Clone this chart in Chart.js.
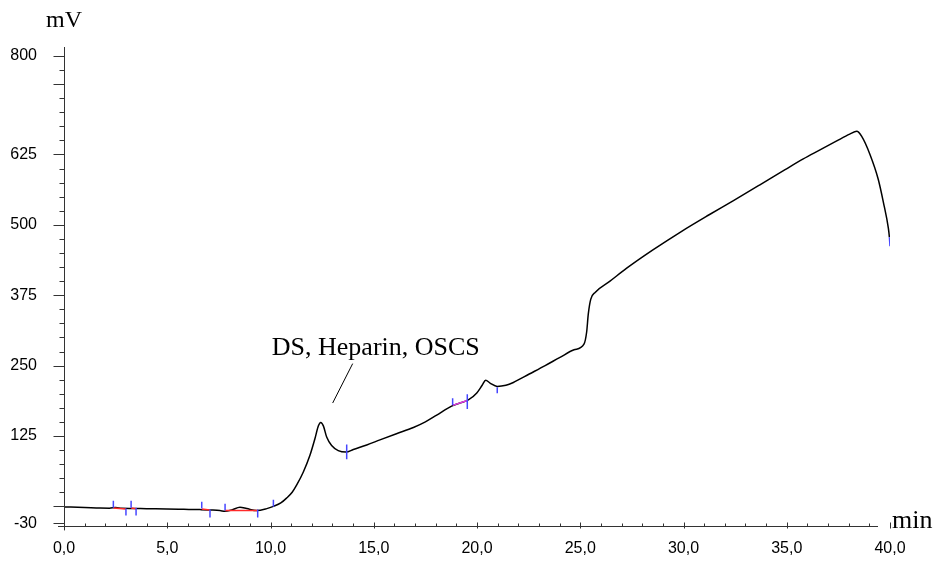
<!DOCTYPE html>
<html>
<head>
<meta charset="utf-8">
<script src="https://cdn.jsdelivr.net/npm/chart.js@4/dist/chart.umd.min.js"></script>
<style>
  html, body { margin: 0; padding: 0; background: #fff; }
  #wrap { width: 938px; height: 563px; position: relative; }
</style>
</head>
<body>
<div id="wrap"><canvas id="chromatogram"></canvas></div>
<script>
// Detector trace: retention time (min) and signal (mV)
const timeMin = [
  0, 1.0, 1.74, 2.2, 2.5, 2.8, 3.3, 4.0, 4.97, 5.8, 6.59, 7.2, 7.55, 7.8, 8.12, 8.52, 8.85, 9.33, 9.82,
  10.14, 10.5, 10.78, 11.05, 11.27, 11.59, 11.91, 12.15, 12.32, 12.43, 12.56, 12.72, 12.96, 13.28, 13.66,
  14.01, 14.66, 15.3, 16.1, 16.92, 17.5, 18.05, 18.77, 19.2, 19.58, 19.99, 20.25, 20.42, 20.63, 20.98,
  21.4, 21.76, 22.53, 23.3, 24.02, 24.7, 25.18, 25.31, 25.39, 25.51, 25.72, 26.44, 27.25, 28.5, 29.93,
  31.2, 32.42, 33.7, 34.92, 35.8, 36.61, 37.42, 38.05, 38.39, 38.63, 39.03, 39.43, 39.68, 39.92, 39.97, 40.0
];
const signalMV = [
  -1, -2, -3, -3.2, -2, -3.5, -3.8, -4.2, -4.6, -5.2, -5.8, -6.6, -7.5, -8.8, -6.5, -1.7, -4.0, -7.5, -4.0,
  0, 6, 14.7, 25, 38, 61, 90.6, 120, 143, 149, 143, 123, 108, 99, 96.4,
  101, 109, 118, 129, 140, 150, 162, 178, 184, 189, 201.5, 215, 224, 219, 213,
  215, 220, 235, 250, 264.6, 278, 288, 309.6, 341.7, 368, 380, 400, 423, 455, 489,
  517, 543, 571, 598, 617, 633, 649, 661, 666, 657, 625, 581, 540, 494, 478, 462
];

// Integration event marks (time, upper and lower signal of each mark)
const eventTime   = [2.39, 3.00, 3.25, 3.49, 6.67, 7.07, 7.80, 9.38, 10.14, 13.69, 18.82, 19.53, 20.98];
const eventTop    = [10.0, -4.0, 10.0, -2.3, 8.2, -5.8, 4.7, -5.8, 11.7, 110, 192, 199, 211.5];
const eventBottom = [-2.3, -16.3, -2.3, -16.3, -4.0, -19.8, -7.5, -19.8, -0.5, 83.6, 180, 173, 201];

// Peak baselines (start time, start signal, end time, end signal)
const baseStartTime = [2.39, 3.25, 6.67, 7.80, 18.82];
const baseStartMV   = [-3.0, -3.0, -4.7, -7.5, 179.4];
const baseEndTime   = [3.00, 3.49, 7.07, 9.38, 19.53];
const baseEndMV     = [-4.7, -4.1, -6.4, -7.5, 188];
const baseKind      = ['red', 'red', 'red', 'red', 'magenta'];

// Axis tick values
const xLabelStep = 5;
const yTickLabels = [-30, 125, 250, 375, 500, 625, 800];
const yLongTicks = [-30, 0, 125, 250, 375, 500, 625, 750, 800];

const BLUE = '#4646ff';
const COLORS = { red: '#ff2a2a', magenta: '#e23ce2' };
const AXIS = '#333333';

const datasets = [];

eventTime.forEach((t, i) => {
  datasets.push({
    data: [{ x: t, y: eventTop[i] }, { x: t, y: eventBottom[i] }],
    borderColor: BLUE, borderWidth: 1.5, pointRadius: 0, tension: 0
  });
});

baseStartTime.forEach((t, i) => {
  datasets.push({
    data: [{ x: t, y: baseStartMV[i] }, { x: baseEndTime[i], y: baseEndMV[i] }],
    borderColor: COLORS[baseKind[i]], borderWidth: 1.5, pointRadius: 0, tension: 0
  });
});

const lastSeg = timeMin.length - 2;
datasets.push({
  data: timeMin.map((t, i) => ({ x: t, y: signalMV[i] })),
  borderColor: '#000',
  borderWidth: 1.5,
  pointRadius: 0,
  cubicInterpolationMode: 'monotone',
  segment: { borderColor: ctx => (ctx.p0DataIndex >= lastSeg ? BLUE : '#000') }
});

// Axis lines, tick marks and free text
const furniture = {
  id: 'furniture',
  afterDraw(chart) {
    const { ctx, chartArea: a, scales: { x, y } } = chart;
    ctx.save();
    ctx.strokeStyle = AXIS;
    ctx.lineWidth = 1;
    ctx.beginPath();
    const ax = Math.round(a.left) + 0.5;
    const ay = Math.round(a.bottom) + 0.5;
    ctx.moveTo(ax, a.top); ctx.lineTo(ax, a.bottom + 4);
    ctx.moveTo(a.left - 6, ay); ctx.lineTo(a.right - 12, ay);
    for (let v = 0; v <= 800; v += 25) {
      if (yLongTicks.includes(v)) continue;
      const py = Math.round(y.getPixelForValue(v)) + 0.5;
      ctx.moveTo(ax - 5, py); ctx.lineTo(ax, py);
    }
    yLongTicks.forEach(v => {
      const py = Math.round(y.getPixelForValue(v)) + 0.5;
      ctx.moveTo(ax - 11, py); ctx.lineTo(ax, py);
    });
    for (let t = 0; t <= 40; t += 1) {
      const px = Math.round(x.getPixelForValue(t)) + 0.5;
      if (t % xLabelStep === 0) { ctx.moveTo(px, ay - 4); ctx.lineTo(px, ay + 2); }
      else { ctx.moveTo(px, ay - 3); ctx.lineTo(px, ay); }
    }
    ctx.stroke();

    // leader line of the peak label
    ctx.beginPath();
    ctx.strokeStyle = '#000';
    ctx.moveTo(x.getPixelForValue(13.98), y.getPixelForValue(253.5));
    ctx.lineTo(x.getPixelForValue(13.01), y.getPixelForValue(183.5));
    ctx.stroke();

    ctx.fillStyle = '#000';
    ctx.textBaseline = 'alphabetic';
    ctx.font = '26px "Liberation Serif", "Times New Roman", serif';
    ctx.textAlign = 'center';
    ctx.fillText('DS, Heparin, OSCS', x.getPixelForValue(15.1), y.getPixelForValue(268));

    ctx.font = '24px "Liberation Serif", "Times New Roman", serif';
    ctx.fillText('mV', a.left, 27);
    ctx.textAlign = 'left';
    ctx.font = '26px "Liberation Serif", "Times New Roman", serif';
    ctx.fillText('min', a.right + 2, 528);
    ctx.restore();
  }
};

new Chart(document.getElementById('chromatogram'), {
  type: 'line',
  data: { datasets },
  plugins: [furniture],
  options: {
    responsive: true,
    maintainAspectRatio: false,
    animation: false,
    events: [],
    layout: { padding: { top: 47, right: 48, left: 0, bottom: 0 } },
    plugins: { legend: { display: false }, tooltip: { enabled: false } },
    scales: {
      x: {
        type: 'linear',
        min: 0, max: 40,
        afterFit: s => { s.height = 31; },
        border: { display: false },
        grid: { display: true, drawOnChartArea: false, drawTicks: false },
        ticks: {
          stepSize: xLabelStep,
          padding: 13,
          color: '#000',
          font: { family: '"Liberation Sans", Arial, sans-serif', size: 16 },
          maxRotation: 0,
          callback: v => Number(v).toFixed(1).replace('.', ',')
        }
      },
      y: {
        type: 'linear',
        min: -35.6, max: 815.8,
        afterFit: s => { s.width = 64; },
        afterBuildTicks: s => { s.ticks = yTickLabels.map(v => ({ value: v })); },
        border: { display: false },
        grid: { display: true, drawOnChartArea: false, drawTicks: false },
        ticks: {
          padding: 27,
          color: '#000',
          font: { family: '"Liberation Sans", Arial, sans-serif', size: 16 },
          callback: v => String(v)
        }
      }
    }
  }
});
</script>
</body>
</html>
